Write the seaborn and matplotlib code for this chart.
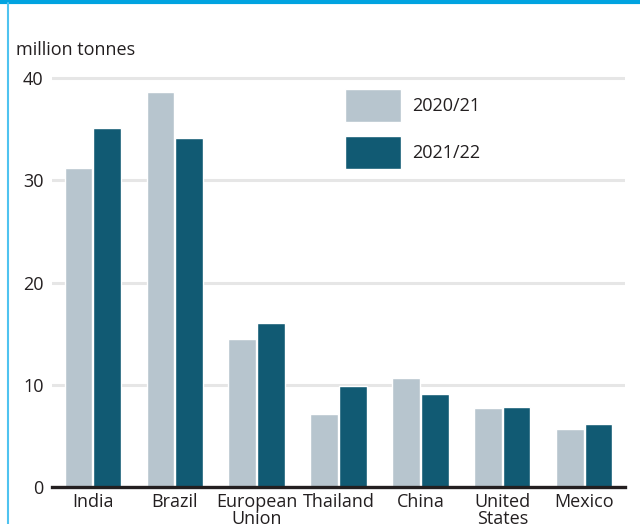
import matplotlib
matplotlib.use("Agg")
import matplotlib.pyplot as plt
import seaborn as sns
import pandas as pd
from matplotlib.lines import Line2D

countries = ["India", "Brazil", "European\nUnion", "Thailand", "China", "United\nStates", "Mexico"]
v_2020 = [31.2, 38.6, 14.5, 7.1, 10.7, 7.7, 5.7]
v_2021 = [35.1, 34.1, 16.0, 9.9, 9.1, 7.8, 6.2]
seasons = ["2020/21", "2021/22"]
yticks = [0, 10, 20, 30, 40]

df = pd.DataFrame({
    "country": countries * 2,
    "season": [seasons[0]] * len(countries) + [seasons[1]] * len(countries),
    "value": v_2020 + v_2021,
})

sns.set_theme(style="white")
plt.rcParams["font.family"] = ["Open Sans", "DejaVu Sans"]
text_color = "#231F20"
fs = 13

fig = plt.figure(figsize=(6.4, 5.24), dpi=100)
ax = fig.add_axes([52 / 640, 1 - 487 / 524, (625 - 52) / 640, (487 - 72.9) / 524])

sns.barplot(data=df, x="country", y="value", hue="season",
            palette=["#B7C5CE", "#115A73"], width=0.7, gap=0.03,
            saturation=1, ax=ax, legend=True)

ax.set_xlim(-0.5, len(countries) - 0.5)
ax.set_ylim(0, 40.5)
ax.set_yticks(yticks)
ax.set_xlabel("")
ax.set_ylabel("")
for s in ["left", "right", "top"]:
    ax.spines[s].set_visible(False)
ax.spines["bottom"].set_color(text_color)
ax.spines["bottom"].set_linewidth(2.4)
ax.spines["bottom"].set_zorder(5)
ax.yaxis.grid(True, color="#E6E6E6", linewidth=2.2)
ax.set_axisbelow(True)
ax.tick_params(axis="y", length=0, pad=6, labelsize=fs, labelcolor=text_color)
ax.tick_params(axis="x", length=0, pad=4, labelsize=fs, labelcolor=text_color)
for lbl in ax.get_xticklabels():
    lbl.set_linespacing(0.95)

leg = ax.legend(loc="upper left", bbox_to_anchor=(345 / 640, 1 - 89 / 524),
                bbox_transform=fig.transFigure, frameon=False, fontsize=fs,
                handlelength=3.1, handleheight=2.45, labelspacing=0.78,
                handletextpad=0.62, borderpad=0, borderaxespad=0)
for t in leg.get_texts():
    t.set_color(text_color)

fig.text(16 / 640, 1 - 50 / 524, "million tonnes", fontsize=fs, color=text_color,
         ha="left", va="center")

# decorative frame lines
fig.add_artist(Line2D([0, 1], [1 - 1.5 / 524, 1 - 1.5 / 524], color="#00A3E0",
                      linewidth=3, transform=fig.transFigure))
fig.add_artist(Line2D([7.5 / 640, 7.5 / 640], [0, 1 - 3 / 524], color="#4FC3F0",
                      linewidth=1.5, transform=fig.transFigure))

fig.savefig("out.png", dpi=100)
